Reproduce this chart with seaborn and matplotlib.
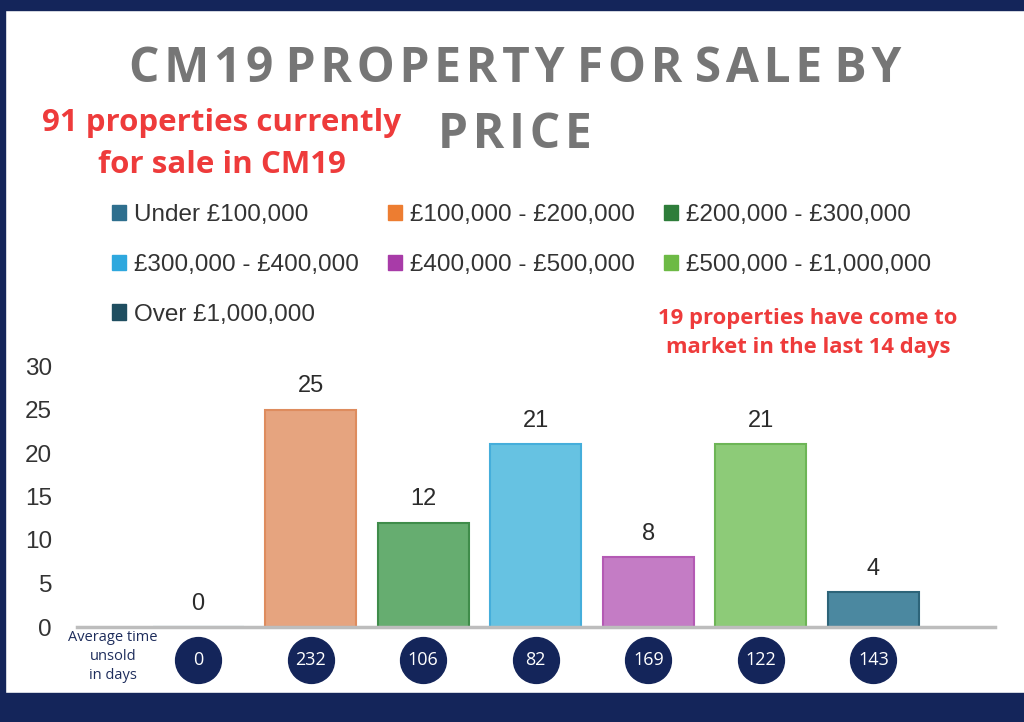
import pandas as pd
import matplotlib
matplotlib.use("Agg")
import matplotlib.pyplot as plt
from matplotlib.patches import Patch, Rectangle
import seaborn as sns

# ── Data ──────────────────────────────────────────────────────────────────
categories = ["Under £100,000", "£100,000 - £200,000", "£200,000 - £300,000",
              "£300,000 - £400,000", "£400,000 - £500,000",
              "£500,000 - £1,000,000", "Over £1,000,000"]
counts      = [0, 25, 12, 21, 8, 21, 4]
days_unsold = [0, 232, 106, 82, 169, 122, 143]
y_ticks     = [0, 5, 10, 15, 20, 25, 30]

legend_colors = ["#2E6F8E", "#ED7D31", "#2E7D3A", "#2EA8DE",
                 "#A83BA8", "#6DBA45", "#1F4E60"]
bar_colors    = ["#4A8FAF", "#E6A47F", "#66AD70", "#66C2E2",
                 "#C47CC5", "#8DCB78", "#4B88A0"]
edge_colors   = ["#2E6F8E", "#DE8C5E", "#3F8C4A", "#45AEDB",
                 "#B45AB4", "#6DB556", "#2D6479"]

NAVY = "#14255A"
GREY_TITLE = "#767676"
RED = "#EE3B3B"

df = pd.DataFrame({"band": categories, "count": counts})

sns.set_theme(style="white")
plt.rcParams["font.family"] = ["Liberation Sans", "DejaVu Sans"]

fig = plt.figure(figsize=(10.24, 7.22), dpi=100)
fig.patch.set_facecolor("white")

# navy frame
fig.patches.append(Rectangle((0, 1 - 10 / 722), 1, 10 / 722, transform=fig.transFigure,
                             color=NAVY, zorder=0))
fig.patches.append(Rectangle((0, 0), 1, 29 / 722, transform=fig.transFigure,
                             color=NAVY, zorder=0))
fig.patches.append(Rectangle((0, 0), 5 / 1024, 1, transform=fig.transFigure,
                             color=NAVY, zorder=0))

ax = fig.add_axes([77 / 1024, 95 / 722, 918 / 1024, 261 / 722])
sns.barplot(data=df, x="band", y="count", hue="band", palette=bar_colors,
            width=0.81, legend=False, saturation=1, ax=ax)
for bar, ec in zip(ax.patches, edge_colors):
    bar.set_edgecolor(ec)
    bar.set_linewidth(1.5)

for cont in ax.containers:
    ax.bar_label(cont, fontsize=17, color="#2b2b2b", padding=9)

ax.set_xlim(-1.076, 7.08)
ax.set_ylim(0, 30)
ax.set_yticks(y_ticks)
ax.set_yticklabels([str(t) for t in y_ticks], fontsize=17.5, color="#333333")
ax.tick_params(axis="y", length=0, pad=18)
ax.set_xticks([])
ax.set_xlabel("")
ax.set_ylabel("")
for side in ["top", "right", "left"]:
    ax.spines[side].set_visible(False)
ax.spines["bottom"].set_color("#BDBDBD")
ax.spines["bottom"].set_linewidth(2.5)

# average days unsold badges
xs = list(range(len(categories)))
ax.scatter(xs, [-3.8] * len(xs), s=1090, color=NAVY, clip_on=False, zorder=5)
for x, d in zip(xs, days_unsold):
    ax.text(x, -3.8, str(d), ha="center", va="center", color="white",
            fontsize=13, family=["Open Sans", "DejaVu Sans"], clip_on=False, zorder=6)
ax.text(-0.756, -3.4, "Average time\nunsold\nin days", ha="center", va="center",
        color="#1E2D5C", fontsize=10.5, linespacing=1.35,
        family=["Open Sans", "DejaVu Sans"], clip_on=False)

# legend (row-wise order for ncol=3)
handles = [Patch(facecolor=c, edgecolor=c) for c in legend_colors]
order = [0, 3, 6, 1, 4, 2, 5]
leg = fig.legend([handles[i] for i in order], [categories[i] for i in order],
                 ncol=3, loc="upper left", bbox_to_anchor=(90 / 1024, 1 - 182 / 722),
                 frameon=False, fontsize=17.5, handlelength=0.6, handleheight=0.6,
                 handletextpad=0.3, columnspacing=1.2, labelspacing=1.15,
                 labelcolor="#333333")

# titles and notes
sp = "\u200a"
line1 = " ".join(sp.join(w) for w in "CM19 PROPERTY FOR SALE BY".split())
fig.text(515 / 1024, 1 - 70 / 722, line1, ha="center", va="center",
         fontsize=34.5, fontweight="bold", color=GREY_TITLE,
         family=["Open Sans", "DejaVu Sans"])
fig.text(515 / 1024, 1 - 135 / 722, sp.join("PRICE"), ha="center", va="center",
         fontsize=34.5, fontweight="bold", color=GREY_TITLE,
         family=["Open Sans", "DejaVu Sans"])
fig.text(222 / 1024, 1 - 144 / 722, "91 properties currently\nfor sale in CM19",
         ha="center", va="center", fontsize=22.5, fontweight="bold", color=RED,
         linespacing=1.5, family=["Open Sans", "DejaVu Sans"])
fig.text(808 / 1024, 1 - 333 / 722, "19 properties have come to\nmarket in the last 14 days",
         ha="center", va="center", fontsize=15.8, fontweight="bold", color=RED,
         linespacing=1.5, family=["Open Sans", "DejaVu Sans"])

fig.savefig("out.png", dpi=100)
plt.close(fig)
